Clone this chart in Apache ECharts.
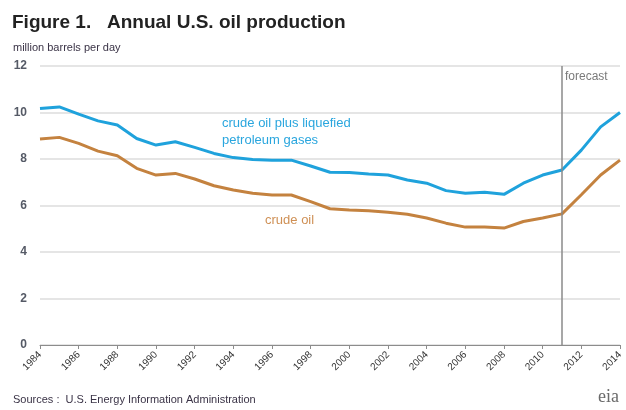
<!DOCTYPE html>
<html><head><meta charset="utf-8">
<script src="https://cdn.jsdelivr.net/npm/echarts@6/dist/echarts.min.js"></script>
<style>html,body{margin:0;padding:0;background:#fff}#c{width:626px;height:410px}</style>
</head><body><div id="c"></div>
<script>
const years = ['1984','1985','1986','1987','1988','1989','1990','1991','1992','1993','1994','1995','1996','1997','1998','1999','2000','2001','2002','2003','2004','2005','2006','2007','2008','2009','2010','2011','2012','2013','2014'];
const crudePlusLPG = [10.17,10.24,9.93,9.64,9.46,8.88,8.6,8.74,8.5,8.24,8.06,7.98,7.95,7.95,7.7,7.43,7.42,7.36,7.31,7.1,6.96,6.64,6.53,6.57,6.48,6.96,7.31,7.53,8.38,9.38,10.0];
const crudeOil = [8.86,8.93,8.67,8.34,8.14,7.6,7.31,7.38,7.14,6.85,6.67,6.53,6.45,6.45,6.17,5.86,5.81,5.77,5.71,5.62,5.46,5.24,5.07,5.07,5.03,5.31,5.46,5.64,6.46,7.31,7.95];
const yTicks = [0,2,4,6,8,10,12];
const forecastYear = '2011';

const chart = echarts.init(document.getElementById('c'), null, {renderer:'canvas'});
const F = 'Liberation Sans, Arial, sans-serif';
chart.setOption({
  animation:false,
  backgroundColor:'#fff',
  grid:{left:40,right:6,top:66,bottom:65},
  xAxis:{type:'category',data:years,boundaryGap:false,
    axisLine:{lineStyle:{color:'#8c8c8c',width:1}},
    axisTick:{interval:1,length:4,lineStyle:{color:'#8c8c8c'}},
    axisLabel:{interval:1,rotate:45,fontSize:10,color:'#333',fontFamily:F,margin:8}},
  yAxis:{type:'value',min:yTicks[0],max:yTicks[yTicks.length-1],interval:2,
    axisLine:{show:false},axisTick:{show:false},
    axisLabel:{fontSize:12,color:'#555a66',fontFamily:F,fontWeight:'bold',margin:13},
    splitLine:{lineStyle:{color:'#dcdcdc',width:1.5}}},
  series:[
    {type:'line',name:'crude oil plus liquefied petroleum gases',data:crudePlusLPG,symbol:'none',
     lineStyle:{color:'#1fa2dc',width:3},itemStyle:{color:'#1fa2dc'},
     markLine:{silent:true,symbol:'none',label:{show:false},
       lineStyle:{color:'#8a8a8a',width:1.5,type:'solid'},data:[{xAxis:forecastYear}]}},
    {type:'line',name:'crude oil',data:crudeOil,symbol:'none',
     lineStyle:{color:'#c4823f',width:3},itemStyle:{color:'#c4823f'}}
  ],
  graphic:[
    {type:'text',left:12,top:13,style:{text:'Figure 1.   Annual U.S. oil production',font:'bold 19px '+F,fill:'#222'}},
    {type:'text',left:13,top:42,style:{text:'million barrels per day',font:'11px '+F,fill:'#3a3346'}},
    {type:'text',left:565,top:71,style:{text:'forecast',font:'12px '+F,fill:'#7a7a7a'}},
    {type:'text',left:222,top:115,style:{text:'crude oil plus liquefied\npetroleum gases',font:'13px '+F,fill:'#2aa6de',lineHeight:17}},
    {type:'text',left:265,top:214,style:{text:'crude oil',font:'13px '+F,fill:'#cf9055'}},
    {type:'text',left:13,top:394,style:{text:'Sources :  U.S. Energy Information Administration',font:'11px '+F,fill:'#3a3346'}},
    {type:'text',left:598,top:388,style:{text:'eia',font:'18px Liberation Serif, serif',fill:'#6a6a6a'}}
  ]
});
</script></body></html>
